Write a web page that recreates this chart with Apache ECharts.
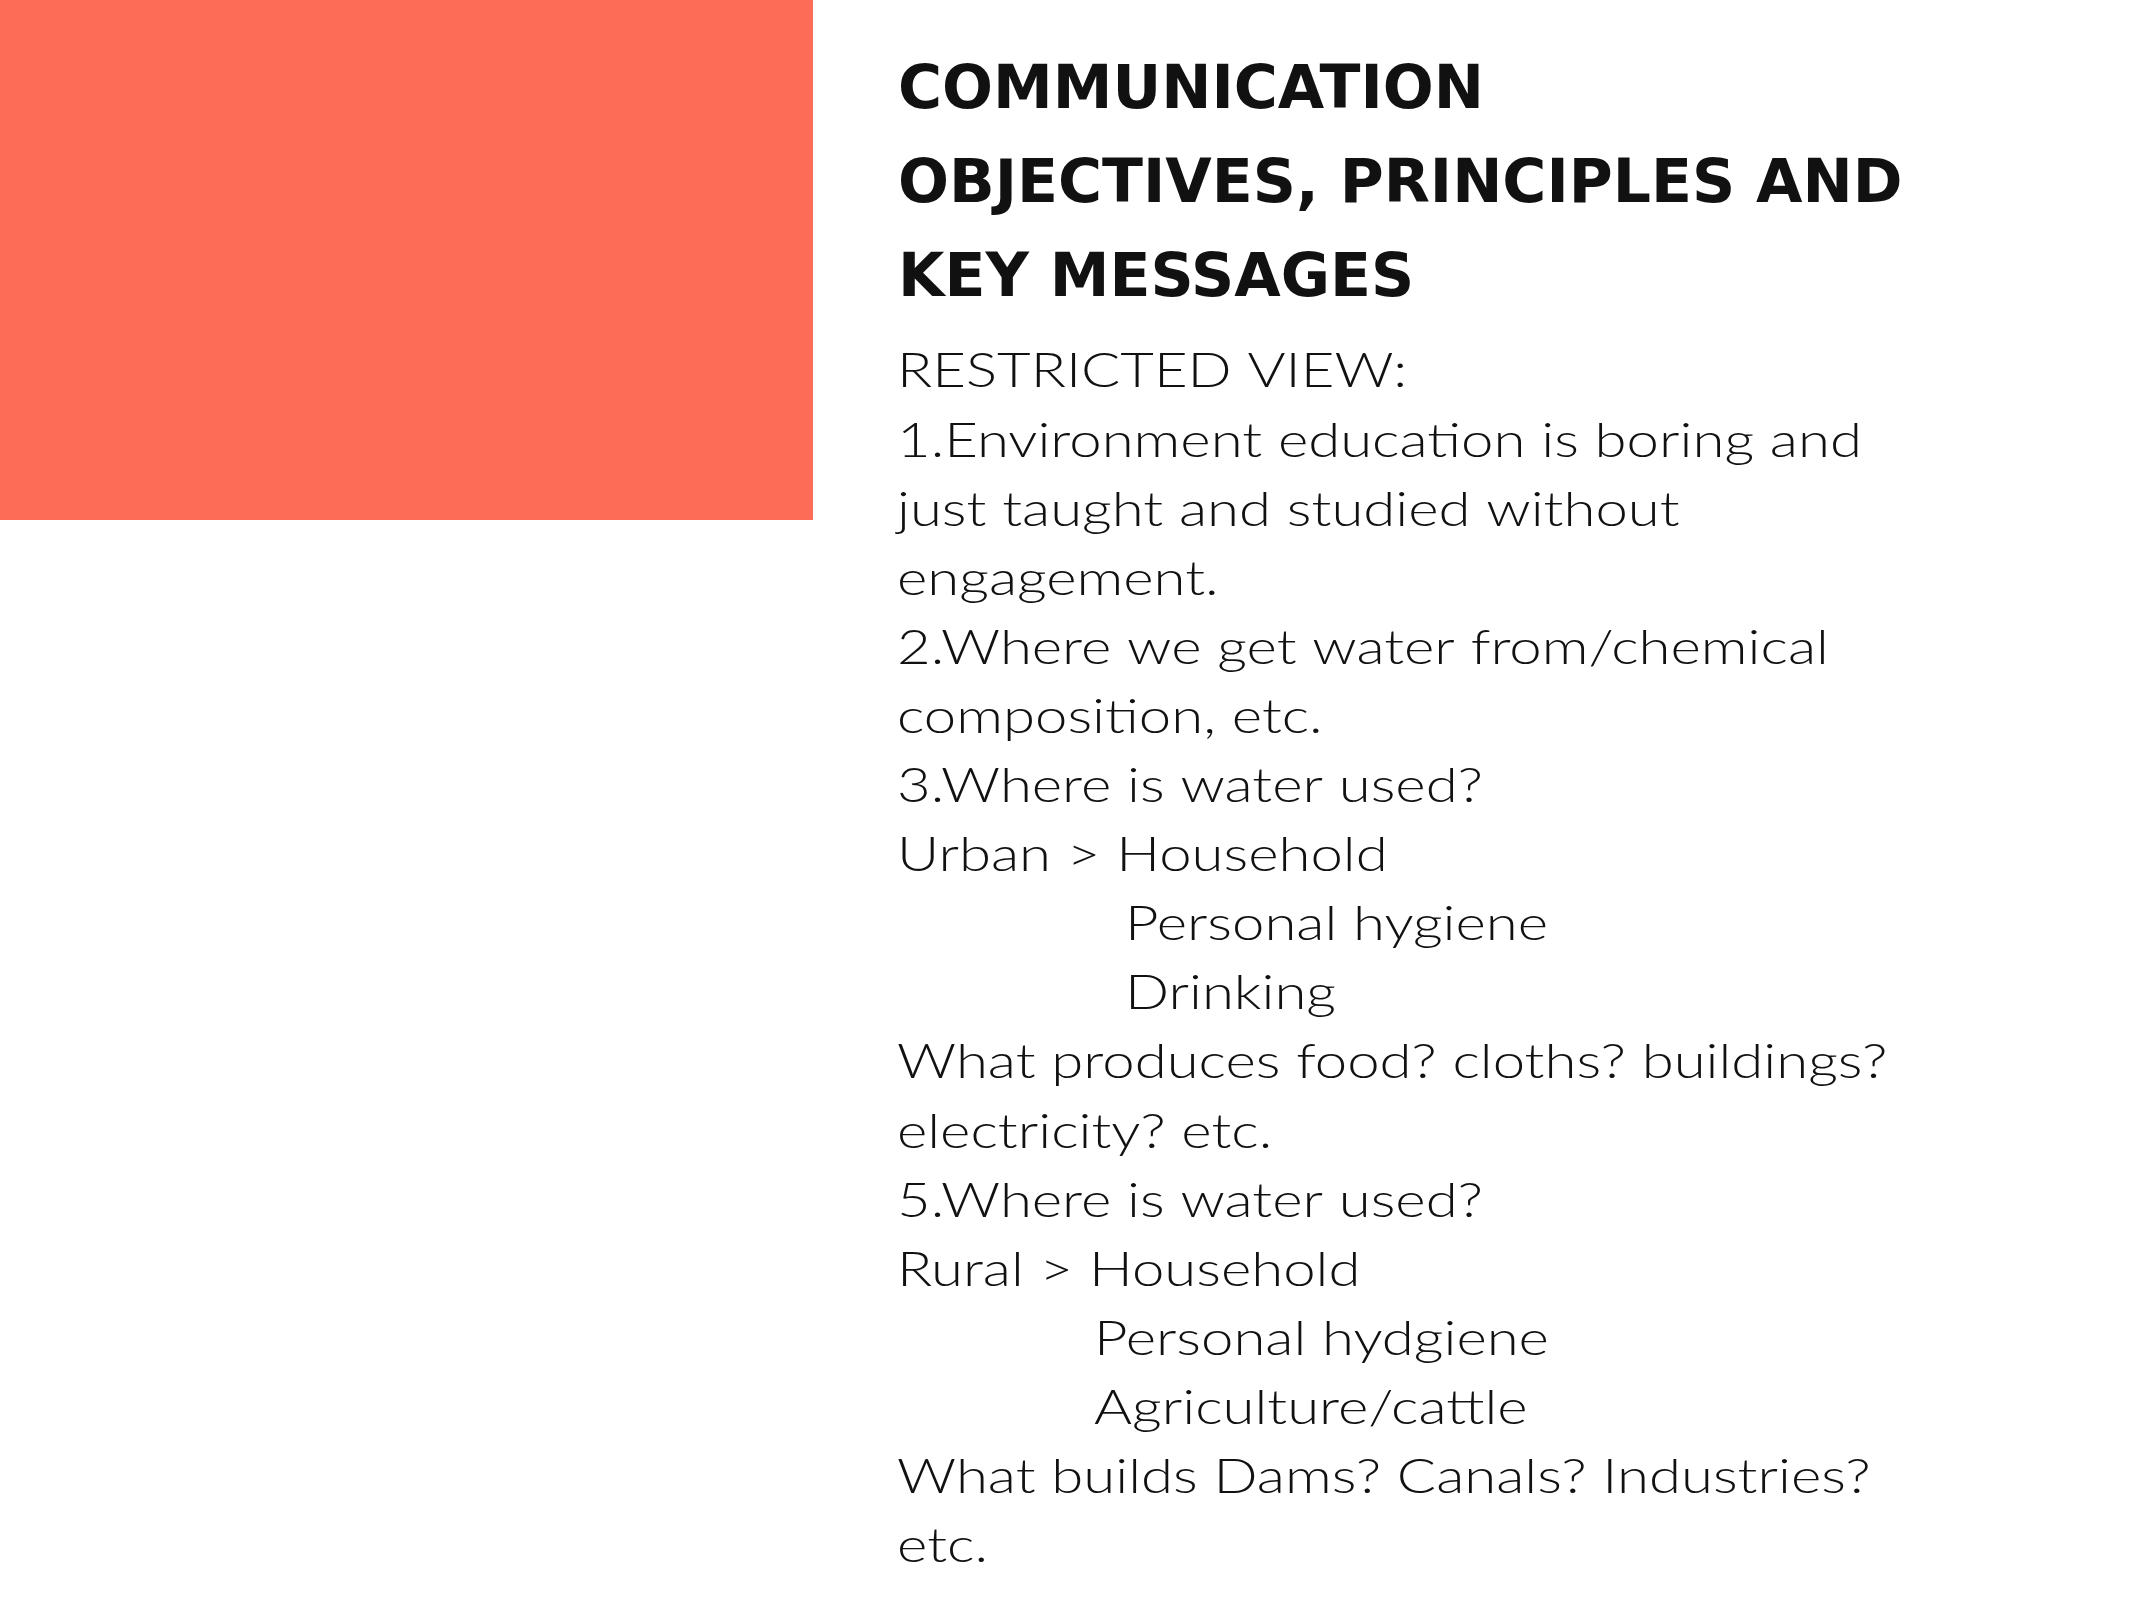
<!DOCTYPE html>
<html><head><meta charset="utf-8">
<script src="https://cdn.jsdelivr.net/npm/echarts@6/dist/echarts.min.js"></script>
<style>html,body{margin:0;padding:0;background:#fff}#c{width:2134px;height:1600px}</style>
</head><body><div id="c"></div>
<script>
const titleLines = ["COMMUNICATION", "OBJECTIVES, PRINCIPLES AND", "KEY MESSAGES"];
const bodyLines = [
  ["RESTRICTED VIEW:", 0],
  ["1.Environment education is boring and", 0],
  ["just taught and studied without", 0],
  ["engagement.", 0],
  ["2.Where we get water from/chemical", 0],
  ["composition, etc.", 0],
  ["3.Where is water used?", 0],
  ["Urban > Household", 0],
  ["Personal hygiene", 228],
  ["Drinking", 228],
  ["What produces food? cloths? buildings?", 0],
  ["electricity? etc.", 0],
  ["5.Where is water used?", 0],
  ["Rural > Household", 0],
  ["Personal hydgiene", 197],
  ["Agriculture/cattle", 197],
  ["What builds Dams? Canals? Industries?", 0],
  ["etc.", 0]
];
const chart = echarts.init(document.getElementById('c'));
const g = [{type:'rect', shape:{x:0,y:0,width:813,height:520}, style:{fill:'#FC6C57'}}];
titleLines.forEach((t,i)=>g.push({type:'text', x:898, y:92+i*94,
  style:{text:t, fill:'#111', font:'bold 60px "DejaVu Sans"', verticalAlign:'middle'}}));
bodyLines.forEach(([t,dx],i)=>g.push({type:'text', x:897+dx, y:372+i*69.1, scaleX:1.21,
  style:{text:t, fill:'#111', font:'300 48px Lato', verticalAlign:'middle'}}));
chart.setOption({graphic:g});
</script></body></html>
